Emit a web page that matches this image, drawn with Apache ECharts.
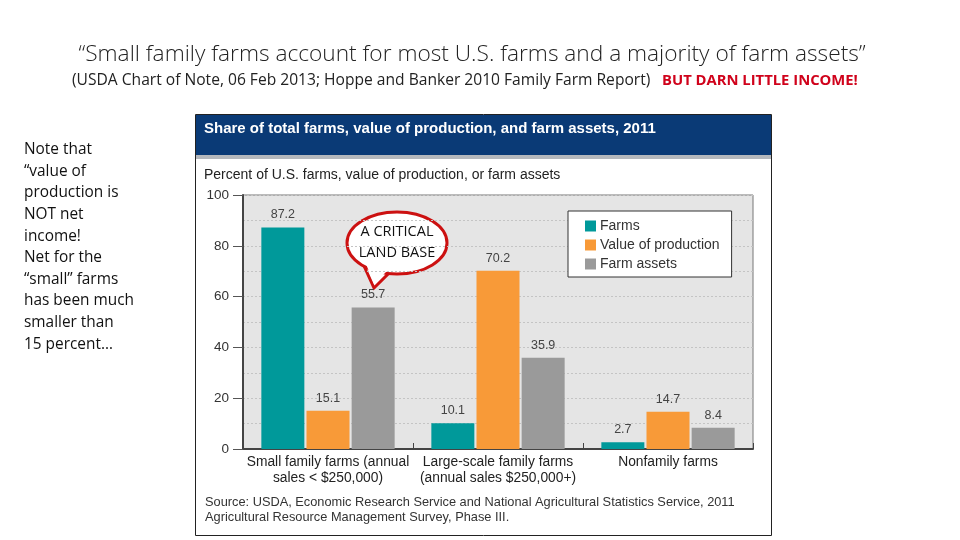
<!DOCTYPE html>
<html>
<head>
<meta charset="utf-8">
<script src="https://cdn.jsdelivr.net/npm/echarts@6/dist/echarts.min.js"></script>
<style>html,body{margin:0;padding:0;background:#fff;}#c{width:960px;height:540px;}</style>
</head>
<body>
<div id="c"></div>
<script>
var categories = ['Small family farms (annual\nsales < $250,000)', 'Large-scale family farms\n(annual sales $250,000+)', 'Nonfamily farms'];
var seriesNames = ['Farms', 'Value of production', 'Farm assets'];
var farms = [87.2, 10.1, 2.7];
var valueOfProduction = [15.1, 70.2, 14.7];
var farmAssets = [55.7, 35.9, 8.4];
var yTicks = [0, 20, 40, 60, 80, 100];

var colors = ['#00999a', '#f89a38', '#9a9a9a'];
var chart = echarts.init(document.getElementById('c'));
var ff = 'Liberation Sans, Arial, sans-serif';
var cal = 'Open Sans, Lato, sans-serif';

function barSeries(name, data, color) {
  return {
    name: name, type: 'bar', data: data, barWidth: 43, barGap: '5%',
    itemStyle: { color: color },
    label: { show: true, position: 'top', distance: 6, color: '#444', fontSize: 12.5, fontFamily: ff, formatter: function(p){ return p.value.toFixed(1); } }
  };
}

chart.setOption({
  backgroundColor: '#fff',
  animation: false,
  graphic: [
    { type: 'rect', shape: { x: 195.5, y: 114.5, width: 576, height: 421 }, style: { fill: '#fff', stroke: '#222', lineWidth: 1 }, z: -10 },
    { type: 'rect', shape: { x: 196, y: 115, width: 575, height: 40 }, style: { fill: '#0a3a76' }, z: -9 },
    { type: 'rect', shape: { x: 196, y: 155, width: 575, height: 4 }, style: { fill: '#b5b8bd' }, z: -9 },
    { type: 'text', left: 204, top: 121, style: { text: 'Share of total farms, value of production, and farm assets, 2011', fill: '#fff', font: 'bold 15px ' + ff } },
    { type: 'text', left: 204, top: 168, style: { text: 'Percent of U.S. farms, value of production, or farm assets', fill: '#222', font: '14px ' + ff } },
    { type: 'text', left: 205, top: 495, style: { text: 'Source: USDA, Economic Research Service and National Agricultural Statistics Service, 2011\nAgricultural Resource Management Survey, Phase III.', fill: '#333', font: '12.8px ' + ff, lineHeight: 15 } },
    { type: 'text', x: 472, y: 55, style: { text: '\u201CSmall family farms account for most U.S. farms and a majority of farm assets\u201D', fill: '#222', font: '300 22.7px ' + cal, align: 'center', verticalAlign: 'middle' } },
    { type: 'text', x: 72, y: 81, style: { text: '(USDA Chart of Note, 06 Feb 2013; Hoppe and Banker 2010 Family Farm Report)', fill: '#222', font: '15.6px ' + cal, verticalAlign: 'middle' } },
    { type: 'text', x: 662, y: 81, style: { text: 'BUT DARN LITTLE INCOME!', fill: '#d0021b', font: 'bold 14.8px ' + cal, verticalAlign: 'middle' } },
    { type: 'text', left: 24, top: 139, style: { text: 'Note that\n\u201Cvalue of\nproduction is\nNOT net\nincome!\nNet for the\n\u201Csmall\u201D farms\nhas been much\nsmaller than\n15 percent\u2026', fill: '#111', font: '15.4px ' + cal, lineHeight: 21.6 } },
    { type: 'group', z: 100, children: [
      { type: 'polygon', shape: { points: [[364, 266], [374, 288], [390, 272]] }, style: { fill: '#fff', stroke: '#cc1111', lineWidth: 3 } },
      { type: 'ellipse', shape: { cx: 397, cy: 243, rx: 50, ry: 31 }, style: { fill: '#fff', stroke: '#cc1111', lineWidth: 3 } },
      { type: 'polygon', shape: { points: [[366, 264], [374, 284], [388, 270]] }, style: { fill: '#fff', stroke: null } },
      { type: 'text', x: 397, y: 242, style: { text: 'A CRITICAL\nLAND BASE', fill: '#111', font: '14.5px ' + cal, align: 'center', verticalAlign: 'middle', lineHeight: 21 } }
    ]}
  ],
  legend: {
    orient: 'vertical', left: 568, top: 211,
    data: seriesNames, icon: 'rect', itemWidth: 11, itemHeight: 11, itemGap: 5,
    padding: [8, 12, 6, 17], backgroundColor: '#fff', borderColor: '#333', borderWidth: 1,
    textStyle: { color: '#333', fontSize: 14, fontFamily: ff, padding: [0, 0, 0, -1] }
  },
  grid: { left: 243, right: 207, top: 195, bottom: 91, show: true, backgroundColor: '#e5e5e5', borderColor: '#777', borderWidth: 1 },
  xAxis: {
    type: 'category', data: categories,
    axisLine: { lineStyle: { color: '#444', width: 2 } },
    axisTick: { show: true, inside: true, length: 6, interval: 0, lineStyle: { color: '#444' } },
    axisLabel: { color: '#222', fontSize: 13.8, fontFamily: ff, lineHeight: 16, margin: 5, interval: 0 }
  },
  yAxis: {
    type: 'value', min: yTicks[0], max: yTicks[yTicks.length - 1], interval: 20,
    axisLine: { show: true, lineStyle: { color: '#444', width: 2 } },
    axisTick: { show: true, length: 10, lineStyle: { color: '#555' } },
    axisLabel: { color: '#333', fontSize: 13.5, fontFamily: ff, margin: 14 },
    splitLine: { show: true, lineStyle: { color: '#c4c4c4', type: [2, 2] } },
    minorTick: { show: false, splitNumber: 2 },
    minorSplitLine: { show: true, lineStyle: { color: '#c4c4c4', type: [2, 2] } }
  },
  series: [
    barSeries(seriesNames[0], farms, colors[0]),
    barSeries(seriesNames[1], valueOfProduction, colors[1]),
    barSeries(seriesNames[2], farmAssets, colors[2])
  ]
});
</script>
</body>
</html>
